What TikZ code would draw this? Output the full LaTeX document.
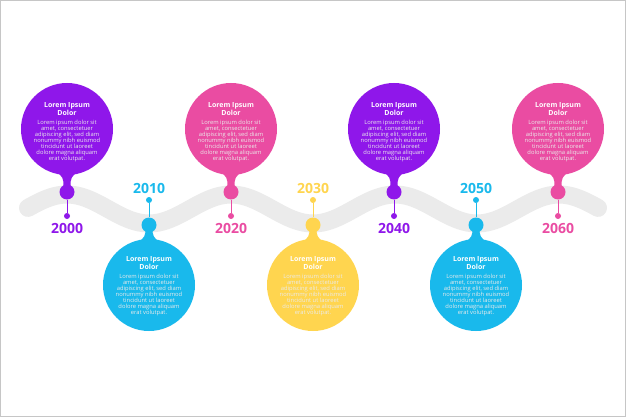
\documentclass[tikz,border=0pt]{standalone}
\usepackage{fontspec}
\setmainfont{Open Sans}
\definecolor{cpurple}{HTML}{8F17EA}
\definecolor{cpink}{HTML}{EA4CA2}
\definecolor{cblue}{HTML}{19B9EC}
\definecolor{cyellow}{HTML}{FFD54F}
\definecolor{cwave}{HTML}{EBEBEB}
\tikzset{
 bubble/.style={circle, fill=#1, minimum size=92pt, inner sep=0pt},
 bulb/.style={circle, fill=#1, minimum size=15pt, inner sep=0pt},
 dotm/.style={circle, fill=#1, minimum size=6pt, inner sep=0pt},
 stem/.style={draw=#1, line width=1pt},
 year/.style={text=#1, font=\bfseries\fontsize{14}{14}\selectfont, inner sep=0pt},
 titletext/.style={text=white, font=\bfseries\fontsize{7}{8}\selectfont, align=center, inner sep=0pt},
 bodytext/.style={text=white!92!black, font=\fontsize{5.8}{5.85}\selectfont, align=center, inner sep=0pt},
 wave/.style={draw=cwave, line width=18pt, line cap=round},
}
\newcommand\bodytxt{Lorem ipsum dolor sit\\amet, consectetuer\\adipiscing elit, sed diam\\nonummy nibh euismod\\tincidunt ut laoreet\\dolore magna aliquam\\erat volutpat.}
\newcommand\upmarker[4]{%
 \node[bubble=#3] (c#1) at (#2,129) {};
 \fill[#3] (#2-12,171) .. controls (#2-4,176) and (#2-3.5,179) .. (#2-3.5,186) -- (#2+3.5,186) .. controls (#2+3.5,179) and (#2+4,176) .. (#2+12,171) -- cycle;
 \node[bulb=#3] (b#1) at (#2,192) {};
 \node[dotm=#3] (d#1) at (#2,216) {};
 \draw[stem=#3] (b#1) -- (d#1);
 \node[year=#3] (y#1) at (#2,228) {#4};
 \node[titletext] (t#1) at (#2,109) {Lorem Ipsum\\Dolor};
 \node[bodytext] (p#1) at (#2,141) {\bodytxt};
}
\newcommand\downmarker[4]{%
 \node[bubble=#3] (c#1) at (#2,285) {};
 \fill[#3] (#2-12,243) .. controls (#2-4,238) and (#2-3.5,235) .. (#2-3.5,228) -- (#2+3.5,228) .. controls (#2+3.5,235) and (#2+4,238) .. (#2+12,243) -- cycle;
 \node[bulb=#3] (b#1) at (#2,225) {};
 \node[dotm=#3] (d#1) at (#2,200) {};
 \draw[stem=#3] (d#1) -- (b#1);
 \node[year=#3] (y#1) at (#2,188) {#4};
 \node[titletext] (t#1) at (#2,263) {Lorem Ipsum\\Dolor};
 \node[bodytext] (p#1) at (#2,295) {\bodytxt};
}
\begin{document}
\begin{tikzpicture}[x=1pt,y=-1pt]
\useasboundingbox (0,0) rectangle (626,417);
\fill[white] (0,0) rectangle (626,417);
\draw[gray!45, line width=1pt] (0.5,0.5) rectangle (625.5,416.5);
\draw[wave] plot[domain=28:598, samples=150] (\x, {209-14.5*sin(2.195122*(\x-26))});
\upmarker{1}{67}{cpurple}{2000}
\downmarker{2}{149}{cblue}{2010}
\upmarker{3}{231}{cpink}{2020}
\downmarker{4}{313}{cyellow}{2030}
\upmarker{5}{394}{cpurple}{2040}
\downmarker{6}{476}{cblue}{2050}
\upmarker{7}{558}{cpink}{2060}
\end{tikzpicture}
\end{document}
